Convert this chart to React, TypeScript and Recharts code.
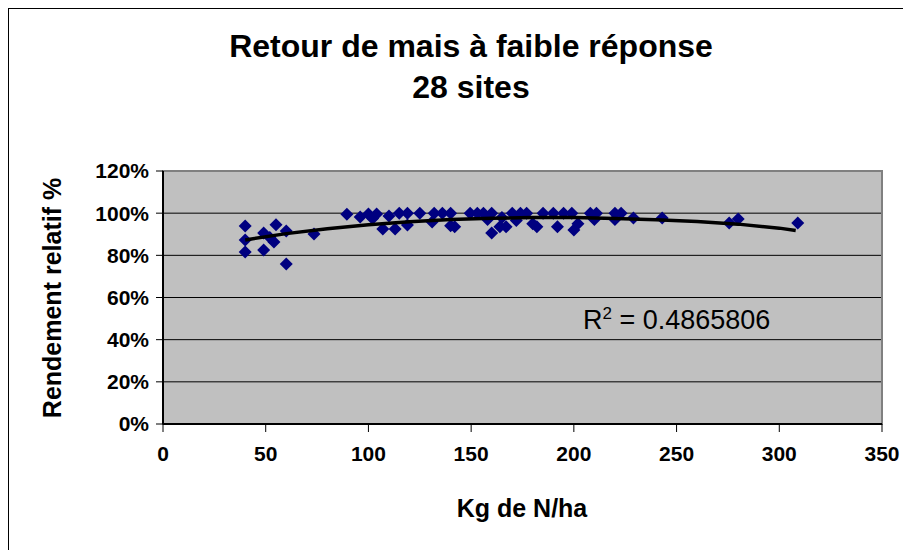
import { ScatterChart, Scatter, XAxis, YAxis, CartesianGrid, ReferenceArea } from "recharts";

// kg N/ha applied, one entry per observation
const nRate = [
  40, 40, 40, 49, 49, 55, 54, 52, 60, 60, 73.5, 89.5, 96, 100, 104, 102, 107, 110, 113, 115,
  119, 119, 125, 131, 132, 136, 140, 140, 142, 149.5, 153, 156, 158, 160, 160, 164, 165, 167,
  170, 172, 174, 177, 180, 182, 185, 190, 192, 195, 199, 200, 202, 208, 210, 211, 220, 220,
  223, 229, 243, 275.6, 280, 309,
];
// relative yield (%)
const relYield = [
  93.9, 87.3, 81.6, 90.6, 82.5, 94.5, 86.3, 88.5, 91.6, 75.9, 90.1, 99.5, 98.2, 99.6, 99.6, 97.5,
  92.5, 98.7, 92.5, 100, 100, 94.4, 100, 95.8, 100, 100, 100, 94, 93.5, 100, 100, 100, 97, 100,
  90.6, 93.5, 98, 93.5, 100, 96.5, 100, 100, 95, 93.5, 100, 100, 93.5, 100, 100, 92, 95, 100, 97,
  100, 100, 97, 100, 97.7, 97.7, 95.3, 97.2, 95.3,
];

// polynomial trendline
const trendN = [40, 60, 80, 100, 120, 140, 160, 180, 200, 220, 240, 260, 280, 300, 308];
const trendYield = [87.3, 90.3, 92.6, 94.5, 95.9, 97, 97.6, 97.9, 97.9, 97.5, 96.9, 96.1, 94.8, 92.9, 91.8];

const xTicks = [0, 50, 100, 150, 200, 250, 300, 350];
const yTicks = [0, 20, 40, 60, 80, 100, 120];

const points = nRate.map((n, i) => ({ n, y: relYield[i] }));
const trend = trendN.map((n, i) => ({ n, y: trendYield[i] }));

const font = "'Liberation Sans', Arial, sans-serif";
const tickStyle = { fill: "#000", fontSize: 21, fontWeight: 700, fontFamily: font };

function Diamond(props: any) {
  const { cx, cy } = props;
  const r = 6.5;
  return (
    <polygon
      points={`${cx},${cy - r} ${cx + r},${cy} ${cx},${cy + r} ${cx - r},${cy}`}
      fill="#000080"
    />
  );
}

export default function App() {
  return (
    <div
      style={{
        position: "relative",
        width: 896,
        height: 560,
        border: "1px solid #000",
        boxSizing: "border-box",
        background: "#fff",
        fontFamily: font,
      }}
    >
      <div
        style={{
          position: "absolute",
          left: 0,
          width: 924,
          top: 17,
          textAlign: "center",
          fontSize: 32,
          fontWeight: 700,
          lineHeight: "41px",
        }}
      >
        Retour de mais à faible réponse
        <br />
        28 sites
      </div>
      <ScatterChart
        width={894}
        height={540}
        margin={{ top: 162, right: 21, bottom: 85, left: 0 }}
        style={{ position: "absolute", left: 0, top: 0 }}
      >
        <CartesianGrid
          fill="#C0C0C0"
          stroke="#000"
          vertical={false}
          horizontalValues={[20, 40, 60, 80, 100]}
        />
        <ReferenceArea x1={0} x2={350} y1={0} y2={120} fill="none" stroke="#808080" strokeWidth={2} />
        <XAxis
          type="number"
          dataKey="n"
          domain={[0, 350]}
          ticks={xTicks}
          height={40}
          tickSize={8}
          tickMargin={14}
          tick={tickStyle}
          axisLine={{ stroke: "#000", strokeWidth: 2 }}
          tickLine={{ stroke: "#000" }}
          allowDataOverflow
        />
        <YAxis
          type="number"
          dataKey="y"
          domain={[0, 120]}
          ticks={yTicks}
          width={154}
          tickSize={7}
          tickMargin={7}
          tick={tickStyle}
          tickFormatter={(v: number) => `${v}%`}
          axisLine={{ stroke: "#000", strokeWidth: 2 }}
          tickLine={{ stroke: "#000" }}
          allowDataOverflow
        />
        <Scatter data={points} shape={Diamond} isAnimationActive={false} />
        <Scatter
          data={trend}
          line={{ stroke: "#000", strokeWidth: 3.5 }}
          lineType="joint"
          shape={() => <g />}
          isAnimationActive={false}
        />
      </ScatterChart>
      <div
        style={{
          position: "absolute",
          left: 43,
          top: 289,
          transform: "translate(-50%, -50%) rotate(-90deg)",
          whiteSpace: "nowrap",
          fontSize: 25,
          fontWeight: 700,
          lineHeight: "30px",
        }}
      >
        Rendement relatif %
      </div>
      <div
        style={{
          position: "absolute",
          left: 313,
          width: 400,
          top: 484,
          textAlign: "center",
          fontSize: 25,
          fontWeight: 700,
          lineHeight: "30px",
        }}
      >
        Kg de N/ha
      </div>
      <div style={{ position: "absolute", left: 574, top: 296, fontSize: 27, lineHeight: "30px" }}>
        R<sup style={{ fontSize: 17, lineHeight: 0 }}>2</sup> = 0.4865806
      </div>
    </div>
  );
}
